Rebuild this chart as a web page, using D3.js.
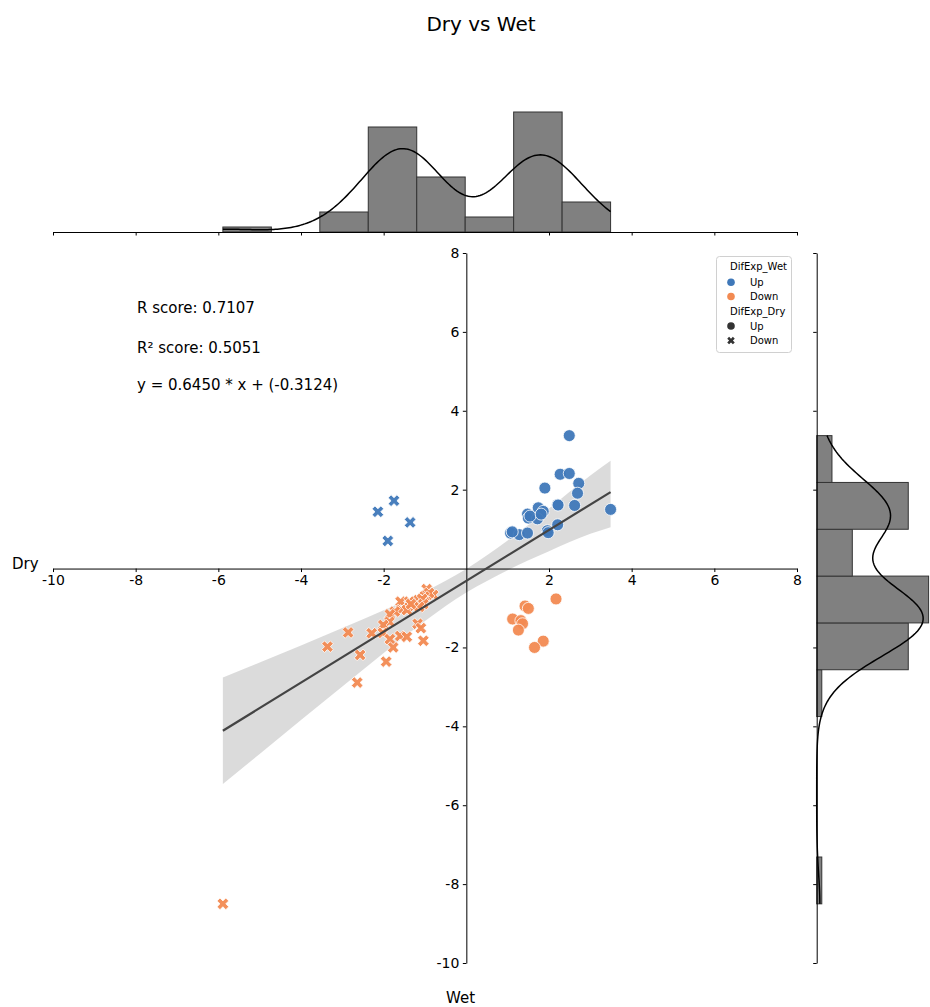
<!DOCTYPE html>
<html><head><meta charset="utf-8">
<script src="https://cdn.jsdelivr.net/npm/d3@7"></script>
<style>
body{margin:0;background:#fff}
svg{display:block}
text{font-family:"DejaVu Sans",sans-serif;fill:#000}
</style>
</head><body>
<svg id="chart" width="930" height="1007"></svg>
<script>
// ---- data (Wet = x, Dry = y) ----
// DifExp_Wet Up / DifExp_Dry Up  (blue circles)
const upUpWet = [2.49,2.27,2.49,2.72,1.90,2.69,2.21,2.62,1.74,1.86,1.48,1.50,1.72,3.49,2.21,1.96,1.98,1.07,1.28,1.48,1.54,1.81,2.22,1.11];
const upUpDry = [3.37,2.39,2.41,2.16,2.04,1.91,1.62,1.60,1.54,1.45,1.38,1.28,1.26,1.50,1.11,0.96,0.91,0.90,0.86,0.90,1.33,1.38,1.61,0.93];
// DifExp_Wet Up / DifExp_Dry Down (blue X)
const upDownWet = [-1.75,-2.14,-1.36,-1.90];
const upDownDry = [1.72,1.44,1.17,0.70];
// DifExp_Wet Down / DifExp_Dry Up (orange circles)
const downUpWet = [2.17,1.42,1.50,1.12,1.32,1.36,1.26,1.86,1.65];
const downUpDry = [-0.77,-0.95,-1.01,-1.28,-1.32,-1.40,-1.56,-1.84,-2.00];
// DifExp_Wet Down / DifExp_Dry Down (orange X)
const downDownWet = [-5.89,-3.36,-2.86,-2.57,-2.64,-0.96,-0.80,-0.90,-1.02,-1.16,-1.07,-1.04,-1.14,-1.18,-1.04,-1.10,-1.59,-1.38,-1.28,-1.58,-1.44,-1.73,-1.85,-1.86,-2.01,-2.29,-2.02,-1.85,-1.60,-1.44,-1.77,-1.94,-1.34];
const downDownDry = [-8.50,-1.98,-1.62,-2.19,-2.89,-0.52,-0.67,-0.62,-0.71,-0.80,-0.77,-0.90,-0.97,-1.40,-1.83,-1.51,-0.84,-0.84,-0.97,-1.05,-1.05,-1.09,-1.16,-1.35,-1.43,-1.64,-1.63,-1.79,-1.71,-1.73,-2.00,-2.36,-0.90];

// regression (from the chart's annotation)
const regSlope = 0.6450;
const regIntercept = -0.3124;
const rScore = "0.7107";
const r2Score = "0.5051";
// confidence band edges
const ciWet  = [-5.89,-5,-4,-3,-2,-1,0,1,2,3,3.49];
const ciLow  = [-5.46,-4.70,-3.84,-2.99,-2.14,-1.33,-0.61,-0.04,0.44,0.88,1.05];
const ciHigh = [-2.76,-2.38,-1.95,-1.51,-1.06,-0.58,-0.01,0.71,1.52,2.36,2.73];

const axisTicks = [-10,-8,-6,-4,-2,2,4,6,8];
const wetLevels = ["Up","Down"];
const dryLevels = ["Up","Down"];
const wetColors = ["#3f78b9","#f28a52"];

// ---- build ----
const points = [];
function add(ws, ds, wetS, dryS){ ws.forEach((w,i)=>points.push({wet:w, dry:ds[i], wetS, dryS})); }
add(upUpWet, upUpDry, "Up", "Up");
add(upDownWet, upDownDry, "Up", "Down");
add(downUpWet, downUpDry, "Down", "Up");
add(downDownWet, downDownDry, "Down", "Down");

const svg = d3.select("#chart");
const x = d3.scaleLinear([-10,8],[53,797]);
const y = d3.scaleLinear([-10,8],[963,253]);
const color = d3.scaleOrdinal(wetLevels, wetColors);
const fmt = d => String(d);

// X marker path (matplotlib "X")
function xPath(d){
  const a = d/2/3;
  const p = [[-1,-3],[1,-3],[1,-1],[3,-1],[3,1],[1,1],[1,3],[-1,3],[-1,1],[-3,1],[-3,-1],[-1,-1]];
  const c = Math.SQRT1_2;
  return "M" + p.map(([u,v])=>{const X=u*a, Y=v*a; return [(X-Y)*c,(X+Y)*c].map(n=>n.toFixed(2)).join(",");}).join("L") + "Z";
}

// title
svg.append("text").attr("x",481).attr("y",31).attr("text-anchor","middle").style("font-size","20px").text("Dry vs Wet");

// ---- main panel ----
const main = svg.append("g");
const band = ciWet.map((w,i)=>({w, lo:ciLow[i], hi:ciHigh[i]}));
main.append("path").datum(band)
  .attr("d", d3.area().x(d=>x(d.w)).y0(d=>y(d.lo)).y1(d=>y(d.hi)).curve(d3.curveMonotoneX))
  .attr("fill","#d9d9d9").attr("fill-opacity",0.95);

const xAxis = d3.axisBottom(x).tickValues(axisTicks).tickFormat(fmt).tickSize(3.5).tickPadding(3.5).tickSizeOuter(0);
const gx = main.append("g").attr("transform",`translate(0,${y(0)})`).call(xAxis);
const yAxis = d3.axisLeft(y).tickValues(axisTicks).tickFormat(fmt).tickSize(3.5).tickPadding(3.5).tickSizeOuter(0);
const gy = main.append("g").attr("transform",`translate(${x(0)},0)`).call(yAxis);
[gx,gy].forEach(g=>{
  g.selectAll("text").style("font-size","14px").style("font-family","DejaVu Sans");
  g.selectAll("line,path").attr("stroke","#000").attr("stroke-width",1);
});

// scatter
const pts = main.append("g");
points.forEach(p=>{
  if(p.dryS==="Up"){
    pts.append("circle").attr("cx",x(p.wet)).attr("cy",y(p.dry)).attr("r",6)
      .attr("fill",color(p.wetS)).attr("fill-opacity",0.95).attr("stroke","#fff").attr("stroke-width",0.8);
  } else {
    pts.append("path").attr("d",xPath(12.4)).attr("transform",`translate(${x(p.wet)},${y(p.dry)})`)
      .attr("fill",color(p.wetS)).attr("fill-opacity",0.95).attr("stroke","#fff").attr("stroke-width",0.8);
  }
});

// regression line
const wetExt = d3.extent(points, d=>d.wet);
main.append("line")
  .attr("x1",x(wetExt[0])).attr("y1",y(regSlope*wetExt[0]+regIntercept))
  .attr("x2",x(wetExt[1])).attr("y2",y(regSlope*wetExt[1]+regIntercept))
  .attr("stroke","#444").attr("stroke-width",2.2);

// annotations
const ann = [`R score: ${rScore}`, `R² score: ${r2Score}`, `y = ${regSlope.toFixed(4)} * x + (${regIntercept.toFixed(4)})`];
ann.forEach((t,i)=>svg.append("text").attr("x",137).attr("y",[312.5,352.5,390][i]).style("font-size","15px").text(t));

// axis labels
svg.append("text").attr("x",12).attr("y",569).style("font-size","15px").text("Dry");
svg.append("text").attr("x",446).attr("y",1003).style("font-size","15px").text("Wet");

// legend
const lg = svg.append("g");
lg.append("rect").attr("x",716.5).attr("y",256.5).attr("width",75).attr("height",96).attr("rx",3)
  .attr("fill","#fff").attr("fill-opacity",0.8).attr("stroke","#d0d0d0");
lg.append("text").attr("x",730).attr("y",269.5).style("font-size","10px").text("DifExp_Wet");
wetLevels.forEach((l,i)=>{
  const cy = 282.3 + i*14.2;
  lg.append("circle").attr("cx",731).attr("cy",cy).attr("r",3.8).attr("fill",color(l));
  lg.append("text").attr("x",750).attr("y",cy+3.6).style("font-size","10px").text(l);
});
lg.append("text").attr("x",730).attr("y",315.3).style("font-size","10px").text("DifExp_Dry");
dryLevels.forEach((l,i)=>{
  const cy = 326 + i*14.6;
  if(l==="Up") lg.append("circle").attr("cx",731).attr("cy",cy).attr("r",3.8).attr("fill","#333");
  else lg.append("path").attr("d",xPath(8)).attr("transform",`translate(731,${cy})`).attr("fill","#333");
  lg.append("text").attr("x",750).attr("y",cy+3.6).style("font-size","10px").text(l);
});

// ---- marginal histograms ----
function kdeCurve(vals, binW){
  const n = vals.length, bw = Math.pow(n,-0.2)*d3.deviation(vals);
  const [lo,hi] = d3.extent(vals);
  const grid = d3.range(200).map(i=>lo+(hi-lo)*i/199);
  return grid.map(t=>{
    const dens = d3.sum(vals, v=>Math.exp(-0.5*((t-v)/bw)**2))/(n*bw*Math.sqrt(2*Math.PI));
    return [t, dens*n*binW];
  });
}
function makeBins(vals, k){
  const [lo,hi] = d3.extent(vals);
  const w = (hi-lo)/k;
  const th = d3.range(1,k).map(i=>lo+i*w);
  return {bins: d3.bin().domain([lo,hi]).thresholds(th)(vals), w};
}
const wetVals = points.map(d=>d.wet), dryVals = points.map(d=>d.dry);

// top
const topB = makeBins(wetVals, 8);
const yTop = d3.scaleLinear([0, 25.2],[232,106]);
const gt = svg.append("g");
gt.selectAll("rect").data(topB.bins.filter(b=>b.length>0)).join("rect")
  .attr("x",b=>x(b.x0)).attr("width",b=>x(b.x1)-x(b.x0))
  .attr("y",b=>yTop(b.length)).attr("height",b=>yTop(0)-yTop(b.length))
  .attr("fill","#808080").attr("stroke","#333").attr("stroke-width",1);
gt.append("path").datum(kdeCurve(wetVals, topB.w))
  .attr("d", d3.line().x(d=>x(d[0])).y(d=>yTop(d[1])))
  .attr("fill","none").attr("stroke","#000").attr("stroke-width",1.5);
const gtAx = gt.append("g").attr("transform","translate(0,232)")
  .call(d3.axisBottom(x).tickValues(axisTicks).tickSize(3.5).tickFormat("").tickSizeOuter(0));
gtAx.selectAll("line,path").attr("stroke","#000");

// right
const rB = makeBins(dryVals, 10);
const xR = d3.scaleLinear([0, 23.1],[816.7, 816.7+117.5]);
const gr = svg.append("g");
gr.selectAll("rect").data(rB.bins.filter(b=>b.length>0)).join("rect")
  .attr("y",b=>y(b.x1)).attr("height",b=>y(b.x0)-y(b.x1))
  .attr("x",xR(0)).attr("width",b=>xR(b.length)-xR(0))
  .attr("fill","#808080").attr("stroke","#333").attr("stroke-width",1);
gr.append("path").datum(kdeCurve(dryVals, rB.w))
  .attr("d", d3.line().x(d=>xR(d[1])).y(d=>y(d[0])))
  .attr("fill","none").attr("stroke","#000").attr("stroke-width",1.5);
const grAx = gr.append("g").attr("transform",`translate(${xR(0)},0)`)
  .call(d3.axisLeft(y).tickValues(axisTicks).tickSize(3.5).tickFormat("").tickSizeOuter(0));
grAx.selectAll("line,path").attr("stroke","#000");
</script>
</body></html>
